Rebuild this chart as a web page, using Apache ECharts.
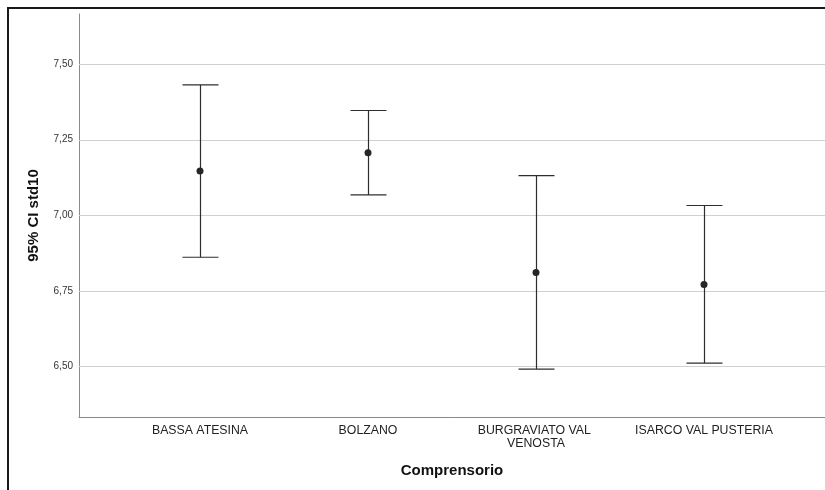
<!DOCTYPE html>
<html>
<head>
<meta charset="utf-8">
<script src="https://cdn.jsdelivr.net/npm/echarts@6/dist/echarts.min.js"></script>
<style>
html,body{margin:0;padding:0;background:#fff;}
#chart{width:825px;height:490px;}
</style>
</head>
<body>
<div id="chart"></div>
<script>
const categories = ['BASSA ATESINA', 'BOLZANO', 'BURGRAVIATO VAL VENOSTA', 'ISARCO VAL PUSTERIA'];
const means = [7.146, 7.206, 6.811, 6.771];
const lowerCI = [6.861, 7.067, 6.491, 6.511];
const upperCI = [7.431, 7.346, 7.131, 7.032];
const yTicks = [6.5, 6.75, 7.0, 7.25, 7.5];
const yMin = 6.333, yMax = 7.665;

const FONT = 'Arial, "Liberation Sans", sans-serif';
const chart = echarts.init(document.getElementById('chart'), null, {renderer: 'canvas'});

const option = {
  backgroundColor: '#ffffff',
  animation: false,
  graphic: [{
    type: 'rect', silent: true, z: -10,
    shape: {x: 8, y: 8, width: 900, height: 600},
    style: {fill: 'none', stroke: '#1a1a1a', lineWidth: 2}
  }],
  grid: [
    {left: 79, right: 0, top: 14, bottom: 73},
    {left: 116, right: 37, top: 14, bottom: 73}
  ],
  xAxis: [
    {
      gridIndex: 0, type: 'value', min: 0, max: 1,
      name: 'Comprensorio', nameLocation: 'middle', nameGap: 46,
      nameTextStyle: {fontFamily: FONT, fontSize: 15, fontWeight: 'bold', color: '#111'},
      axisLine: {show: true, lineStyle: {color: '#8a8a8a', width: 1}},
      axisTick: {show: false}, axisLabel: {show: false}, splitLine: {show: false}
    },
    {
      gridIndex: 1, type: 'category', data: categories, boundaryGap: true,
      axisLine: {show: false}, axisTick: {show: false}, splitLine: {show: false},
      axisLabel: {
        interval: 0, margin: 7, fontFamily: FONT, fontSize: 12.3, color: '#222',
        width: 150, overflow: 'break', lineHeight: 13
      }
    }
  ],
  yAxis: [
    {
      gridIndex: 0, type: 'value', min: yMin, max: yMax,
      name: '95% CI std10', nameLocation: 'middle', nameGap: 38, nameRotate: 90,
      nameTextStyle: {fontFamily: FONT, fontSize: 15, fontWeight: 'bold', color: '#111'},
      axisLine: {show: true, lineStyle: {color: '#8a8a8a', width: 1}},
      axisTick: {show: false},
      splitLine: {show: false},
      axisLabel: {
        customValues: yTicks, margin: 6, fontFamily: FONT, fontSize: 10, color: '#333',
        formatter: v => v.toFixed(2).replace('.', ',')
      }
    },
    {
      gridIndex: 1, type: 'value', min: yMin, max: yMax, show: false,
      splitLine: {show: false}
    }
  ],
  series: [
    {
      type: 'custom', xAxisIndex: 0, yAxisIndex: 0, silent: true, z: 1,
      data: yTicks.map(v => [v]),
      renderItem: function (params, api) {
        const v = api.value(0);
        const p0 = api.coord([0, v]);
        const p1 = api.coord([1, v]);
        return {
          type: 'line',
          shape: {x1: p0[0], y1: Math.round(p0[1]) + 0.5, x2: p1[0], y2: Math.round(p1[1]) + 0.5},
          style: {stroke: '#d0d0d0', lineWidth: 1}
        };
      }
    },
    {
      type: 'custom', xAxisIndex: 1, yAxisIndex: 1, silent: true, z: 5,
      data: categories.map((c, i) => [i, lowerCI[i], upperCI[i]]),
      renderItem: function (params, api) {
        const i = api.value(0);
        const lo = api.coord([i, api.value(1)]);
        const hi = api.coord([i, api.value(2)]);
        const x = Math.round(lo[0]) + 0.5;
        const hw = 18;
        const st = {stroke: '#2e2e2e', lineWidth: 1.2};
        return {
          type: 'group',
          children: [
            {type: 'line', shape: {x1: x, y1: hi[1], x2: x, y2: lo[1]}, style: st},
            {type: 'line', shape: {x1: x - hw, y1: hi[1], x2: x + hw, y2: hi[1]}, style: st},
            {type: 'line', shape: {x1: x - hw, y1: lo[1], x2: x + hw, y2: lo[1]}, style: st}
          ]
        };
      }
    },
    {
      type: 'scatter', xAxisIndex: 1, yAxisIndex: 1, silent: true, z: 6,
      symbol: 'circle', symbolSize: 7,
      itemStyle: {color: '#262626', opacity: 1},
      data: categories.map((c, i) => [i, means[i]])
    }
  ]
};
chart.setOption(option);
</script>
</body>
</html>
